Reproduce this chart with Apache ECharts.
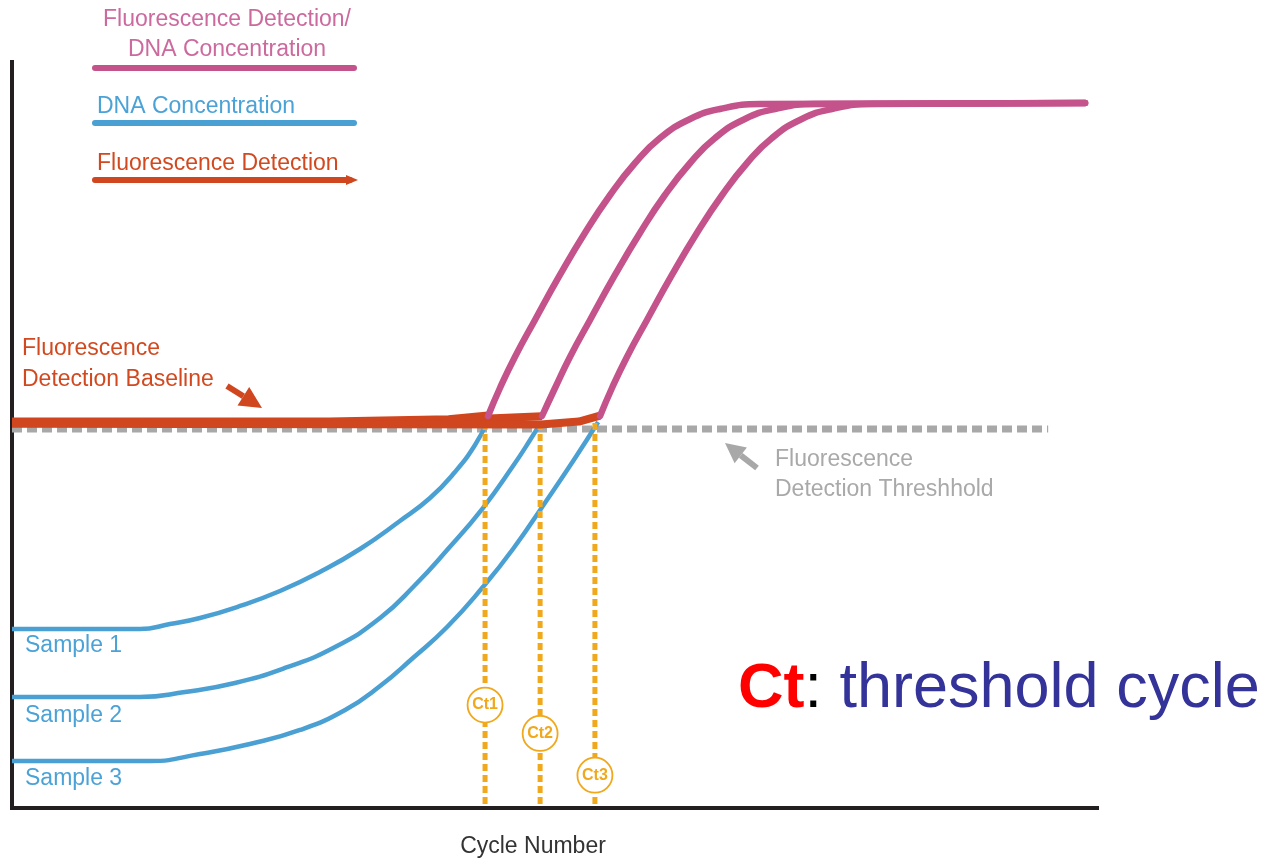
<!DOCTYPE html>
<html>
<head>
<meta charset="utf-8">
<script src="https://cdn.jsdelivr.net/npm/echarts@6/dist/echarts.min.js"></script>
<style>
html,body{margin:0;padding:0;background:#fff;}
#chart{width:1276px;height:860px;}
</style>
</head>
<body>
<div id="chart"></div>
<script>
// ---- data (x: cycle number, y: relative signal, 0-100) ----
const thresholdLevel = 50.8;
const thresholdEnd = 38.2;

const fluorX1 = [17.55,17.99,18.54,19.28,20.20,21.12,22.05,22.97,23.89,25.00,26.10,27.58,39.56];
const fluorY1 = [52.55,56.30,60.46,65.42,71.45,77.08,82.17,86.46,89.81,92.36,93.70,94.37,94.50];
const fluorX2 = [19.54,20.02,20.57,21.31,22.23,23.15,24.07,25.00,25.92,27.02,28.13,29.60,39.56];
const fluorY2 = [52.55,56.30,60.46,65.42,71.45,77.08,82.17,86.46,89.81,92.36,93.70,94.37,94.50];
const fluorX3 = [21.68,22.12,22.67,23.41,24.33,25.25,26.18,27.10,28.02,29.12,30.23,31.71,39.56];
const fluorY3 = [52.55,56.30,60.46,65.42,71.45,77.08,82.17,86.46,89.81,92.36,93.70,94.37,94.50];

const dnaX1 = [0,4.72,5.82,6.93,8.41,9.88,11.35,12.83,14.30,15.41,16.33,17.07,17.51];
const dnaY1 = [23.99,23.99,24.66,25.47,27.08,29.09,31.64,34.72,38.47,41.55,45.04,48.66,51.74];
const dnaX2 = [0,4.72,6.38,8.22,10.06,11.91,13.57,14.86,16.04,17.36,18.47,19.10,19.50];
const dnaY2 = [14.88,14.88,15.55,16.76,18.77,21.58,25.47,29.89,34.58,40.21,45.84,49.33,51.74];
const dnaX3 = [0,5.09,6.93,8.77,10.62,12.28,13.57,14.78,16.04,17.36,18.47,19.72,20.76,21.61];
const dnaY3 = [6.30,6.30,7.24,8.58,10.46,13.14,16.35,20.11,24.26,29.62,34.72,41.29,46.92,51.74];

const baseX1 = [0,11.7,16.1,17.55];
const baseY1 = [51.8,51.8,52.1,52.6];
const baseX2 = [0,14.3,19.54];
const baseY2 = [51.6,51.7,52.5];
const baseX3 = [0,19.5,20.9,21.68];
const baseY3 = [51.5,51.4,51.8,52.6];

const ctCycles = [17.44,19.47,21.49];
const ctLabelLevels = [13.8,10.0,4.4];
const ctLabels = ['Ct1','Ct2','Ct3'];
const ctTop = 51.6;

const sampleNames = ['Sample 1','Sample 2','Sample 3'];

// ---- helpers ----
const zip = (xs, ys) => xs.map((x, i) => [x, ys[i]]);

const PINK = '#c4538b', BLUE = '#4aa0d3', RED = '#d0461f', GRAY = '#a8a8a8', GOLD = '#f0a81c';
const FONT = "'Liberation Sans', Arial, sans-serif";

const chart = echarts.init(document.getElementById('chart'), null, {renderer: 'canvas'});

const series = [];
// threshold
series.push({
  name: 'Fluorescence Detection Threshhold', type: 'line', z: 1, symbol: 'none', silent: true,
  data: [[0, thresholdLevel], [thresholdEnd, thresholdLevel]],
  lineStyle: {color: GRAY, width: 7, type: [10, 5]}
});
// DNA concentration
[[dnaX1, dnaY1], [dnaX2, dnaY2], [dnaX3, dnaY3]].forEach((d, i) => {
  series.push({
    name: 'DNA Concentration ' + sampleNames[i], type: 'line', z: 2, symbol: 'none',
    smooth: 0.5,
    data: zip(d[0], d[1]),
    lineStyle: {color: BLUE, width: 4.5}
  });
});
// Ct dashed lines
ctCycles.forEach((c, i) => {
  series.push({
    name: ctLabels[i] + ' line', type: 'line', z: 3, symbol: 'none',
    data: [[c, ctTop], [c, 0]],
    lineStyle: {color: GOLD, width: 5, type: [7, 4]}
  });
});
// baselines
[[baseX1, baseY1], [baseX2, baseY2], [baseX3, baseY3]].forEach((d, i) => {
  series.push({
    name: 'Fluorescence Detection Baseline ' + (i + 1), type: 'line', z: 4, symbol: 'none',
    data: zip(d[0], d[1]),
    lineStyle: {color: RED, width: 8}
  });
});
// fluorescence / DNA concentration
[[fluorX1, fluorY1], [fluorX2, fluorY2], [fluorX3, fluorY3]].forEach((d, i) => {
  series.push({
    name: 'Fluorescence Detection/DNA Concentration ' + sampleNames[i], type: 'line', z: 5, symbol: 'none',
    smooth: 0.5,
    data: zip(d[0], d[1]),
    lineStyle: {color: PINK, width: 6.5, cap: 'round'}
  });
});
// Ct markers
series.push({
  name: 'Ct', type: 'scatter', z: 6, symbol: 'circle', symbolSize: 35,
  data: ctCycles.map((c, i) => ({value: [c, ctLabelLevels[i]], label: {formatter: ctLabels[i]}})),
  itemStyle: {color: '#ffffff', borderColor: GOLD, borderWidth: 1.8, opacity: 1},
  label: {show: true, position: 'inside', color: GOLD, fontSize: 16, fontWeight: 'bold', fontFamily: FONT},
  emphasis: {disabled: true}
});

function txt(x, y, text, color, size, align) {
  return {type: 'text', x: x, y: y, z: 100,
    style: {text: text, fill: color, font: 'normal ' + size + 'px ' + FONT,
      textAlign: align || 'left', textVerticalAlign: 'middle'}};
}
function arrow(tail, tip, headLen, halfW, width, color) {
  const dx = tip[0] - tail[0], dy = tip[1] - tail[1];
  const L = Math.sqrt(dx * dx + dy * dy), ux = dx / L, uy = dy / L;
  const bx = tip[0] - ux * headLen, by = tip[1] - uy * headLen;
  const px = -uy, py = ux;
  return [
    {type: 'line', z: 100, shape: {x1: tail[0], y1: tail[1], x2: bx, y2: by}, style: {stroke: color, lineWidth: width}},
    {type: 'polygon', z: 100, shape: {points: [tip, [bx + px * halfW, by + py * halfW], [bx - px * halfW, by - py * halfW]]}, style: {fill: color}}
  ];
}

const graphics = [
  txt(227, 20, 'Fluorescence Detection/', '#cc6a9e', 23, 'center'),
  txt(227, 50, 'DNA Concentration', '#cc6a9e', 23, 'center'),
  {type: 'line', z: 100, shape: {x1: 95, y1: 68, x2: 354, y2: 68}, style: {stroke: PINK, lineWidth: 6, lineCap: 'round'}},
  txt(97, 107, 'DNA Concentration', '#4ba2d6', 23),
  {type: 'line', z: 100, shape: {x1: 95, y1: 123, x2: 354, y2: 123}, style: {stroke: BLUE, lineWidth: 6, lineCap: 'round'}},
  txt(97, 164, 'Fluorescence Detection', '#d2491f', 23),
  {type: 'line', z: 100, shape: {x1: 95, y1: 180, x2: 350, y2: 180}, style: {stroke: RED, lineWidth: 6, lineCap: 'round'}},
  {type: 'polygon', z: 100, shape: {points: [[346, 175], [358, 180], [346, 185]]}, style: {fill: RED}},
  txt(22, 349, 'Fluorescence', '#d2491f', 23),
  txt(22, 380, 'Detection Baseline', '#d2491f', 23),
  txt(775, 460, 'Fluorescence', '#a9a9a9', 23),
  txt(775, 490, 'Detection Threshhold', '#a9a9a9', 23),
  txt(25, 646, sampleNames[0], '#4ba2d6', 23),
  txt(25, 716, sampleNames[1], '#4ba2d6', 23),
  txt(25, 779, sampleNames[2], '#4ba2d6', 23),
  txt(533, 847, 'Cycle Number', '#333333', 23, 'center'),
  {type: 'text', x: 738, y: 690, z: 100,
    style: {text: '{a|Ct}{b|:}{c| threshold cycle}', textVerticalAlign: 'middle',
      rich: {
        a: {fill: '#ff0000', fontWeight: 'bold', fontSize: 63, fontFamily: FONT},
        b: {fill: '#000000', fontSize: 63, fontFamily: FONT},
        c: {fill: '#333399', fontSize: 63, fontFamily: FONT}
      }}}
].concat(arrow([227, 386], [262, 408], 22, 11, 6, RED))
 .concat(arrow([757, 468], [725, 443], 20, 10, 6, GRAY));

chart.setOption({
  animation: false,
  backgroundColor: '#ffffff',
  grid: {left: 12, right: 179, top: 62, bottom: 52},
  xAxis: {type: 'value', min: 0, max: 40,
    axisLine: {show: true, onZero: false, lineStyle: {color: '#231f20', width: 4, cap: 'square'}},
    axisTick: {show: false}, axisLabel: {show: false}, splitLine: {show: false}},
  yAxis: {type: 'value', min: 0, max: 100,
    axisLine: {show: true, onZero: false, lineStyle: {color: '#231f20', width: 4, cap: 'square'}},
    axisTick: {show: false}, axisLabel: {show: false}, splitLine: {show: false}},
  series: series,
  graphic: graphics
});
</script>
</body>
</html>
